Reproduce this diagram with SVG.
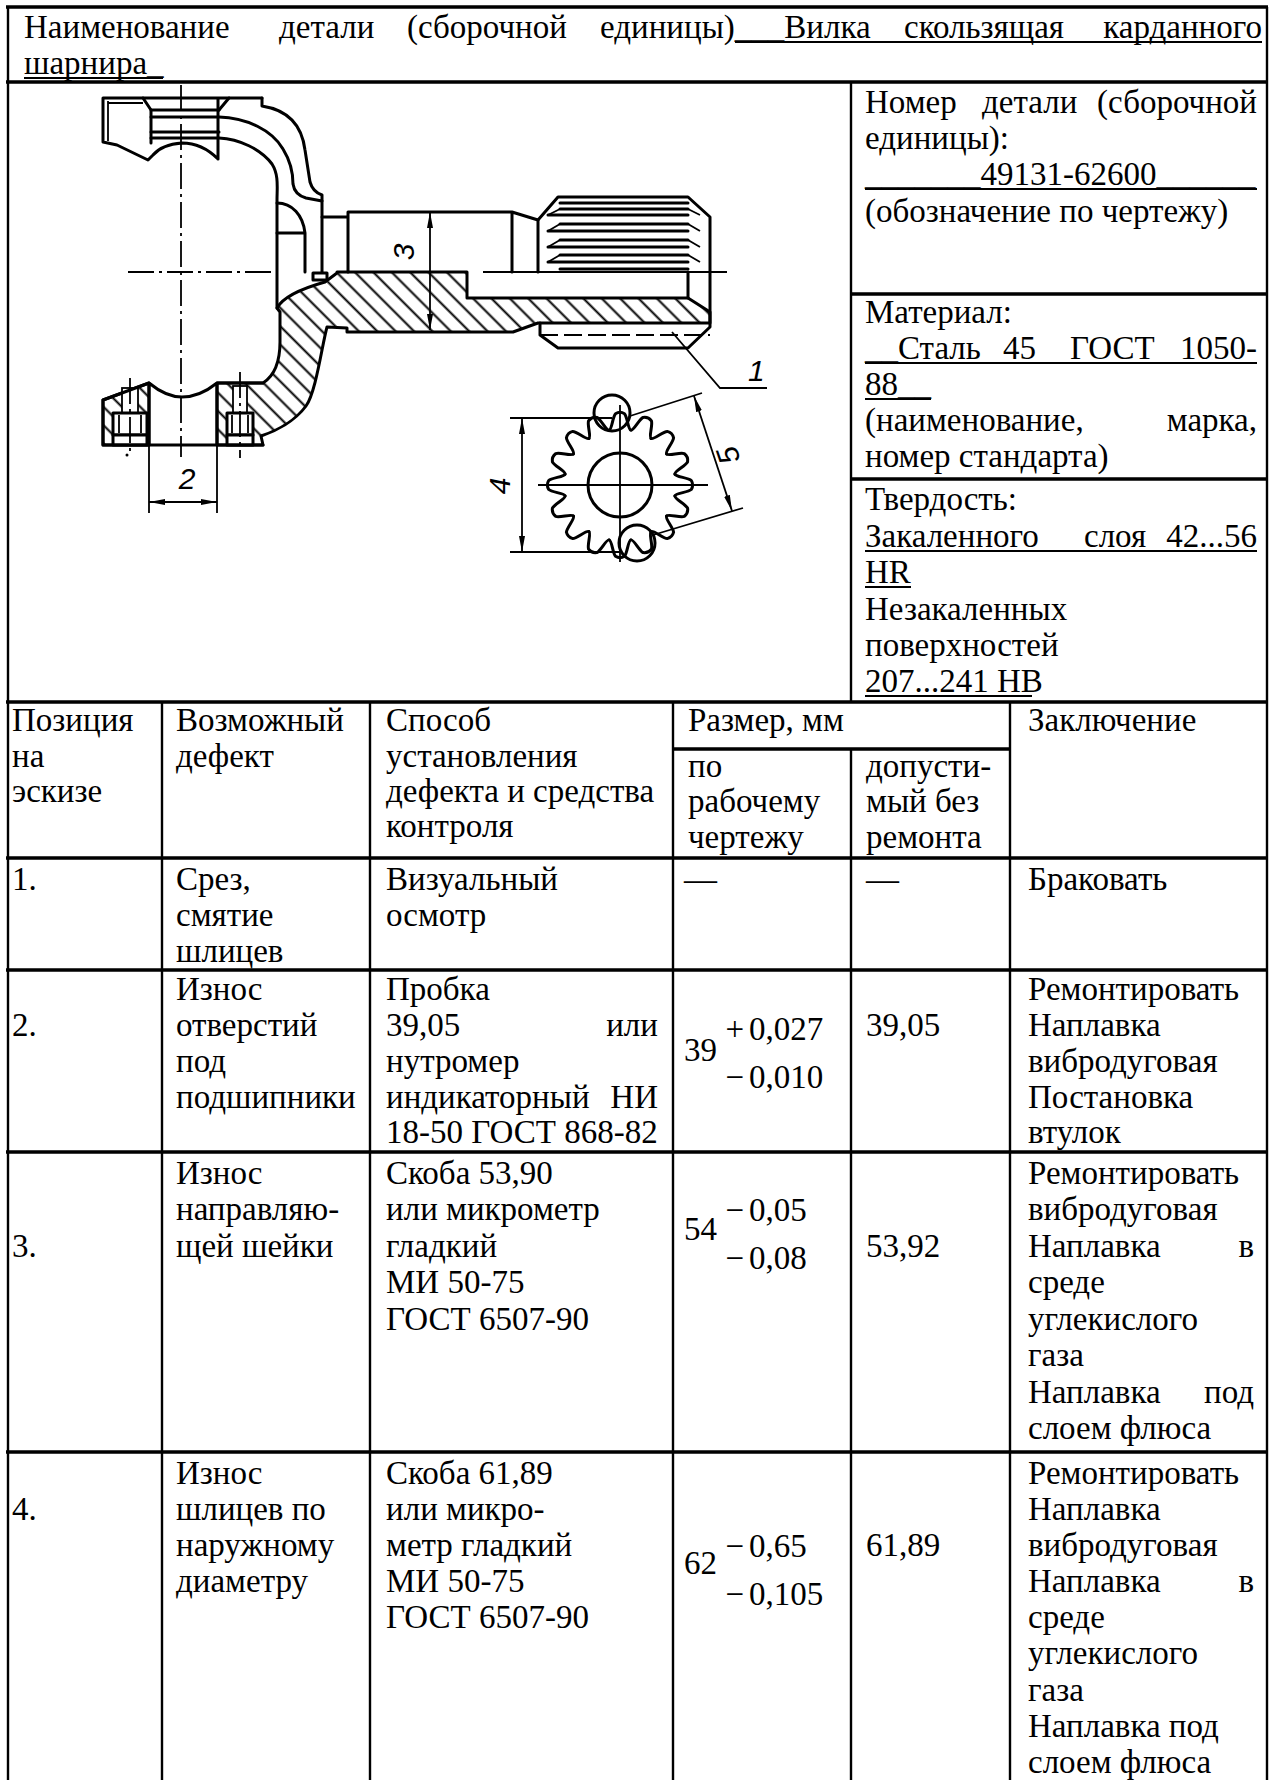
<svg xmlns="http://www.w3.org/2000/svg" width="1269" height="1780" viewBox="0 0 1269 1780">
<defs>
<style>
.t{font-family:"Liberation Serif","Times New Roman",serif;font-size:33px;fill:#000}
.e{text-anchor:end}
.lab{font-family:"Liberation Sans",Arial,sans-serif;font-style:italic;font-size:30px;fill:#000}
.h{stroke:#000;stroke-width:3.5;fill:none}
.v{stroke:#000;stroke-width:2.4;fill:none}
.ul{stroke:#000;stroke-width:2;fill:none}
.k{stroke:#000;stroke-width:3;fill:none;stroke-linejoin:round;stroke-linecap:round}
.n{stroke:#000;stroke-width:1.8;fill:none}
.c{stroke:#000;stroke-width:1.8;fill:none;stroke-dasharray:26 5 3 5}
.ds{stroke:#000;stroke-width:1.8;fill:none;stroke-dasharray:18 6}
.d{stroke:#000;stroke-width:1.8;fill:none;marker-start:url(#ar);marker-end:url(#ar)}
.hf{fill:url(#hatch)}
.wf{fill:#fff}
</style>
<pattern id="hatch" width="13" height="13" patternUnits="userSpaceOnUse" patternTransform="rotate(-45)">
<line x1="6.5" y1="-1" x2="6.5" y2="14" stroke="#000" stroke-width="2"/>
</pattern>
<marker id="ar" viewBox="0 0 16 6" refX="16" refY="3" markerWidth="16" markerHeight="6" markerUnits="userSpaceOnUse" orient="auto-start-reverse">
<path d="M0,0 L16,3 L0,6 Z" fill="#000"/>
</marker>
<path id="tooth" d="M-10.9,-54.9 C-8,-55.5 -7.5,-68 -4.5,-71.3 Q0,-74 4.5,-71.3 C7.5,-68 8,-55.5 10.9,-54.9" class="k"/>
</defs>
<rect width="1269" height="1780" fill="#fff"/>

<g id="grid">
<path class="h" d="M6,7 H1268 M6,82 H1268 M851,294 H1268 M851,479 H1268 M6,702 H1268 M673,749 H1010 M6,858 H1268 M6,970 H1268 M6,1152 H1268 M6,1452 H1268"/>
<path class="v" d="M8,7 V1780 M1267,7 V1780 M851,82 V702 M851,749 V1780 M162,702 V1780 M370,702 V1780 M673,702 V1780 M1010,702 V1780"/>
</g>

<g id="title">
<text class="t" x="24" y="38">Наименование</text>
<text class="t" x="279" y="38">детали</text>
<text class="t" x="407" y="38">(сборочной</text>
<text class="t" x="600" y="38">единицы)___Вилка</text>
<text class="t" x="904" y="38">скользящая</text>
<text class="t e" x="1262" y="38">карданного</text>
<line class="ul" x1="735" y1="42" x2="1262" y2="42"/>
<text class="t" x="24" y="74">шарнира_</text>
<line class="ul" x1="24" y1="78" x2="163" y2="78"/>
</g>

<g id="info">
<text class="t" x="865" y="113">Номер</text>
<text class="t" x="982" y="113">детали</text>
<text class="t e" x="1257" y="113">(сборочной</text>
<text class="t" x="865" y="149">единицы):</text>
<text class="t" x="865" y="185">_______49131-62600______</text>
<line class="ul" x1="865" y1="189" x2="1257" y2="189"/>
<text class="t" x="865" y="222">(обозначение по чертежу)</text>
<text class="t" x="865" y="323">Материал:</text>
<text class="t" x="865" y="359">__Сталь</text>
<text class="t" x="1003" y="359">45</text>
<text class="t" x="1070" y="359">ГОСТ</text>
<text class="t e" x="1257" y="359">1050-</text>
<line class="ul" x1="865" y1="363" x2="1257" y2="363"/>
<text class="t" x="865" y="395">88__</text>
<line class="ul" x1="865" y1="399" x2="931" y2="399"/>
<text class="t" x="865" y="431">(наименование,</text>
<text class="t e" x="1257" y="431">марка,</text>
<text class="t" x="865" y="467">номер стандарта)</text>
<text class="t" x="865" y="510">Твердость:</text>
<text class="t" x="865" y="547">Закаленного</text>
<text class="t" x="1084" y="547">слоя</text>
<text class="t e" x="1257" y="547">42...56</text>
<line class="ul" x1="865" y1="551" x2="1257" y2="551"/>
<text class="t" x="865" y="583">HR</text>
<line class="ul" x1="865" y1="587" x2="911" y2="587"/>
<text class="t" x="865" y="620">Незакаленных</text>
<text class="t" x="865" y="656">поверхностей</text>
<text class="t" x="865" y="692">207...241 HB</text>
<line class="ul" x1="865" y1="696" x2="1032" y2="696"/>
</g>

<g id="header">
<text class="t" x="12" y="731">Позиция</text>
<text class="t" x="12" y="767">на</text>
<text class="t" x="12" y="802">эскизе</text>
<text class="t" x="176" y="731">Возможный</text>
<text class="t" x="176" y="767">дефект</text>
<text class="t" x="386" y="731">Способ</text>
<text class="t" x="386" y="767">установления</text>
<text class="t" x="386" y="802">дефекта и средства</text>
<text class="t" x="386" y="837">контроля</text>
<text class="t" x="688" y="731">Размер, мм</text>
<text class="t" x="688" y="777">по</text>
<text class="t" x="688" y="812">рабочему</text>
<text class="t" x="688" y="848">чертежу</text>
<text class="t" x="866" y="777">допусти-</text>
<text class="t" x="866" y="812">мый без</text>
<text class="t" x="866" y="848">ремонта</text>
<text class="t" x="1028" y="731">Заключение</text>
</g>

<g id="row1">
<text class="t" x="12" y="890">1.</text>
<text class="t" x="176" y="890">Срез,</text>
<text class="t" x="176" y="926">смятие</text>
<text class="t" x="176" y="962">шлицев</text>
<text class="t" x="386" y="890">Визуальный</text>
<text class="t" x="386" y="926">осмотр</text>
<text class="t" x="684" y="890">—</text>
<text class="t" x="866" y="890">—</text>
<text class="t" x="1028" y="890">Браковать</text>
</g>

<g id="row2">
<text class="t" x="12" y="1036">2.</text>
<text class="t" x="176" y="1000">Износ</text>
<text class="t" x="176" y="1036">отверстий</text>
<text class="t" x="176" y="1072">под</text>
<text class="t" x="176" y="1108">подшипники</text>
<text class="t" x="386" y="1000">Пробка</text>
<text class="t" x="386" y="1036">39,05</text>
<text class="t e" x="658" y="1036">или</text>
<text class="t" x="386" y="1072">нутромер</text>
<text class="t" x="386" y="1108">индикаторный</text>
<text class="t e" x="658" y="1108">НИ</text>
<text class="t" x="386" y="1143">18-50 ГОСТ 868-82</text>
<text class="t" x="684" y="1061">39</text>
<text class="t e" x="744" y="1040">+</text>
<text class="t" x="749" y="1040">0,027</text>
<text class="t e" x="744" y="1088">−</text>
<text class="t" x="749" y="1088">0,010</text>
<text class="t" x="866" y="1036">39,05</text>
<text class="t" x="1028" y="1000">Ремонтировать</text>
<text class="t" x="1028" y="1036">Наплавка</text>
<text class="t" x="1028" y="1072">вибродуговая</text>
<text class="t" x="1028" y="1108">Постановка</text>
<text class="t" x="1028" y="1143">втулок</text>
</g>

<g id="row3">
<text class="t" x="12" y="1257">3.</text>
<text class="t" x="176" y="1184">Износ</text>
<text class="t" x="176" y="1220">направляю-</text>
<text class="t" x="176" y="1257">щей шейки</text>
<text class="t" x="386" y="1184">Скоба 53,90</text>
<text class="t" x="386" y="1220">или микрометр</text>
<text class="t" x="386" y="1257">гладкий</text>
<text class="t" x="386" y="1293">МИ 50-75</text>
<text class="t" x="386" y="1330">ГОСТ 6507-90</text>
<text class="t" x="684" y="1240">54</text>
<text class="t e" x="744" y="1221">−</text>
<text class="t" x="749" y="1221">0,05</text>
<text class="t e" x="744" y="1269">−</text>
<text class="t" x="749" y="1269">0,08</text>
<text class="t" x="866" y="1257">53,92</text>
<text class="t" x="1028" y="1184">Ремонтировать</text>
<text class="t" x="1028" y="1220">вибродуговая</text>
<text class="t" x="1028" y="1257">Наплавка</text>
<text class="t e" x="1254" y="1257">в</text>
<text class="t" x="1028" y="1293">среде</text>
<text class="t" x="1028" y="1330">углекислого</text>
<text class="t" x="1028" y="1366">газа</text>
<text class="t" x="1028" y="1403">Наплавка</text>
<text class="t e" x="1254" y="1403">под</text>
<text class="t" x="1028" y="1439">слоем флюса</text>
</g>

<g id="row4">
<text class="t" x="12" y="1520">4.</text>
<text class="t" x="176" y="1484">Износ</text>
<text class="t" x="176" y="1520">шлицев по</text>
<text class="t" x="176" y="1556">наружному</text>
<text class="t" x="176" y="1592">диаметру</text>
<text class="t" x="386" y="1484">Скоба 61,89</text>
<text class="t" x="386" y="1520">или микро-</text>
<text class="t" x="386" y="1556">метр гладкий</text>
<text class="t" x="386" y="1592">МИ 50-75</text>
<text class="t" x="386" y="1628">ГОСТ 6507-90</text>
<text class="t" x="684" y="1574">62</text>
<text class="t e" x="744" y="1557">−</text>
<text class="t" x="749" y="1557">0,65</text>
<text class="t e" x="744" y="1605">−</text>
<text class="t" x="749" y="1605">0,105</text>
<text class="t" x="866" y="1556">61,89</text>
<text class="t" x="1028" y="1484">Ремонтировать</text>
<text class="t" x="1028" y="1520">Наплавка</text>
<text class="t" x="1028" y="1556">вибродуговая</text>
<text class="t" x="1028" y="1592">Наплавка</text>
<text class="t e" x="1254" y="1592">в</text>
<text class="t" x="1028" y="1628">среде</text>
<text class="t" x="1028" y="1664">углекислого</text>
<text class="t" x="1028" y="1701">газа</text>
<text class="t" x="1028" y="1737">Наплавка под</text>
<text class="t" x="1028" y="1773">слоем флюса</text>
</g>

<g id="sketch">
<path class="k hf" d="M277,308 C283,297 300,289 325,282 L337,273 L337,272 L467,272 L467,298 L688,298 L710,312 L710,323 L538,323 L513,332 L347,332 L347,328 L327,327 C322,345 316,392 306,406 C295,421 276,431 261,436 L263,445 L217,445 L217,383 L263,383 C274,376 280,362 280,342 L280,312 Z"/>
<path class="k hf" d="M103,400 L149,383 L149,445 L103,445 Z"/>
<rect class="n wf" x="122" y="388" width="16" height="25"/>
<rect class="k wf" x="113" y="413" width="34" height="22"/>
<rect class="k wf" x="113" y="435" width="34" height="10"/>
<path class="n" d="M119,415 V433 M141,415 V433"/>
<rect class="n wf" x="233" y="386" width="14" height="27"/>
<rect class="k wf" x="227" y="413" width="26" height="22"/>
<rect class="k wf" x="227" y="435" width="26" height="10"/>
<path class="n" d="M232,415 V433 M248,415 V433"/>
<path class="c" d="M130,378 V452 M240,372 V458"/>
<circle cx="127" cy="455" r="1.5" fill="#000"/>
<path class="k" d="M103,445 H263 M103,400 V445 M149,383 V445 M217,383 V445 M103,400 L149,383 C160,392 170,397 182,397 C195,397 207,391 217,383 L263,383"/>
<path class="k" d="M103,98 H262 M103,98 V142 L117,145 L148,160 L153,155 C158,149 168,144 182,143 C195,143 208,149 218,159 M218,98 V159"/>
<path class="n" d="M108,101 V141 M108,103 H143"/>
<path class="k" d="M143,98 L151,110 V143 M229,98 L219,110"/>
<path class="k" d="M151,110 H219 M151,132 H219"/>
<path class="k" d="M262,98 V106 C288,110 302,126 305,150 L310,182 C312,189 316,193 322,195 V272"/>
<path class="k" d="M151,117 H219 C247,118 272,130 283,149 C291,162 293,174 293,184 C294,191 299,196 306,198 L322,201"/>
<path class="k" d="M151,138 H219 C239,139 261,149 272,164 C279,175 277,188 277,200 V308"/>
<path class="k" d="M277,203 C292,203 303,215 305,233 V272 M277,233 H305"/>
<path class="k" d="M313,273 H327 V280 H313 Z"/>
<path class="k" d="M322,217 H348 M348,212 V272 M348,212 H512 L538,220 M512,212 V272 M538,220 V272"/>
<path class="k" d="M538,220 L558,197 H688 L710,217 V327 L688,348 H558 L540,335 V323 M688,272 V298"/>
<path class="ds" d="M540,335 H710"/>
<path class="k" d="M560,203 H688 M560,209 H688 M548,215 H688 M560,224 H688 M548,231 H688 M560,240 H688 M548,247 H688 M560,255 H688 M548,262 H688 M560,269 H688"/>
<path class="n" d="M548,215 L560,209 M548,231 L560,224 M548,247 L560,240 M548,262 L560,255 M688,209 L700,215 M688,224 L700,231 M688,240 L700,247 M688,255 L700,262"/>
<path class="c" d="M181,85 V457 M128,272 H277"/>
<path class="n" d="M483,272 H727"/>
<path class="n" d="M149,445 V513 M217,445 V513"/>
<line class="d" x1="149" y1="502" x2="217" y2="502"/>
<text class="lab" x="187" y="489" text-anchor="middle">2</text>
<line class="d" x1="430" y1="330" x2="430" y2="212"/>
<text class="lab" transform="translate(414,252) rotate(-90)" text-anchor="middle">3</text>
<path class="n" d="M672,332 L720,388 H767"/>
<text class="lab" x="748" y="381">1</text>
<g transform="translate(620,485)">
<use href="#tooth"/>
<use href="#tooth" transform="rotate(22.5)"/>
<use href="#tooth" transform="rotate(45)"/>
<use href="#tooth" transform="rotate(67.5)"/>
<use href="#tooth" transform="rotate(90)"/>
<use href="#tooth" transform="rotate(112.5)"/>
<use href="#tooth" transform="rotate(135)"/>
<use href="#tooth" transform="rotate(157.5)"/>
<use href="#tooth" transform="rotate(180)"/>
<use href="#tooth" transform="rotate(202.5)"/>
<use href="#tooth" transform="rotate(225)"/>
<use href="#tooth" transform="rotate(247.5)"/>
<use href="#tooth" transform="rotate(270)"/>
<use href="#tooth" transform="rotate(292.5)"/>
<use href="#tooth" transform="rotate(315)"/>
<use href="#tooth" transform="rotate(337.5)"/>
<circle r="32" class="k"/>
</g>
<circle cx="612" cy="413" r="18" class="k"/>
<circle cx="637" cy="543" r="18" class="k"/>
<path class="n" d="M620,405 V562 M538,485 H708"/>
<path class="n" d="M510,418 H612 M510,552 H622"/>
<line class="d" x1="522" y1="418" x2="522" y2="552"/>
<text class="lab" transform="translate(510,486) rotate(-90)" text-anchor="middle">4</text>
<path class="n" d="M630,416 L702,393 M653,535 L743,508"/>
<line class="d" x1="694" y1="396" x2="732" y2="511"/>
<text class="lab" transform="translate(738,452) rotate(-109)" text-anchor="middle">5</text>
</g>
</svg>
